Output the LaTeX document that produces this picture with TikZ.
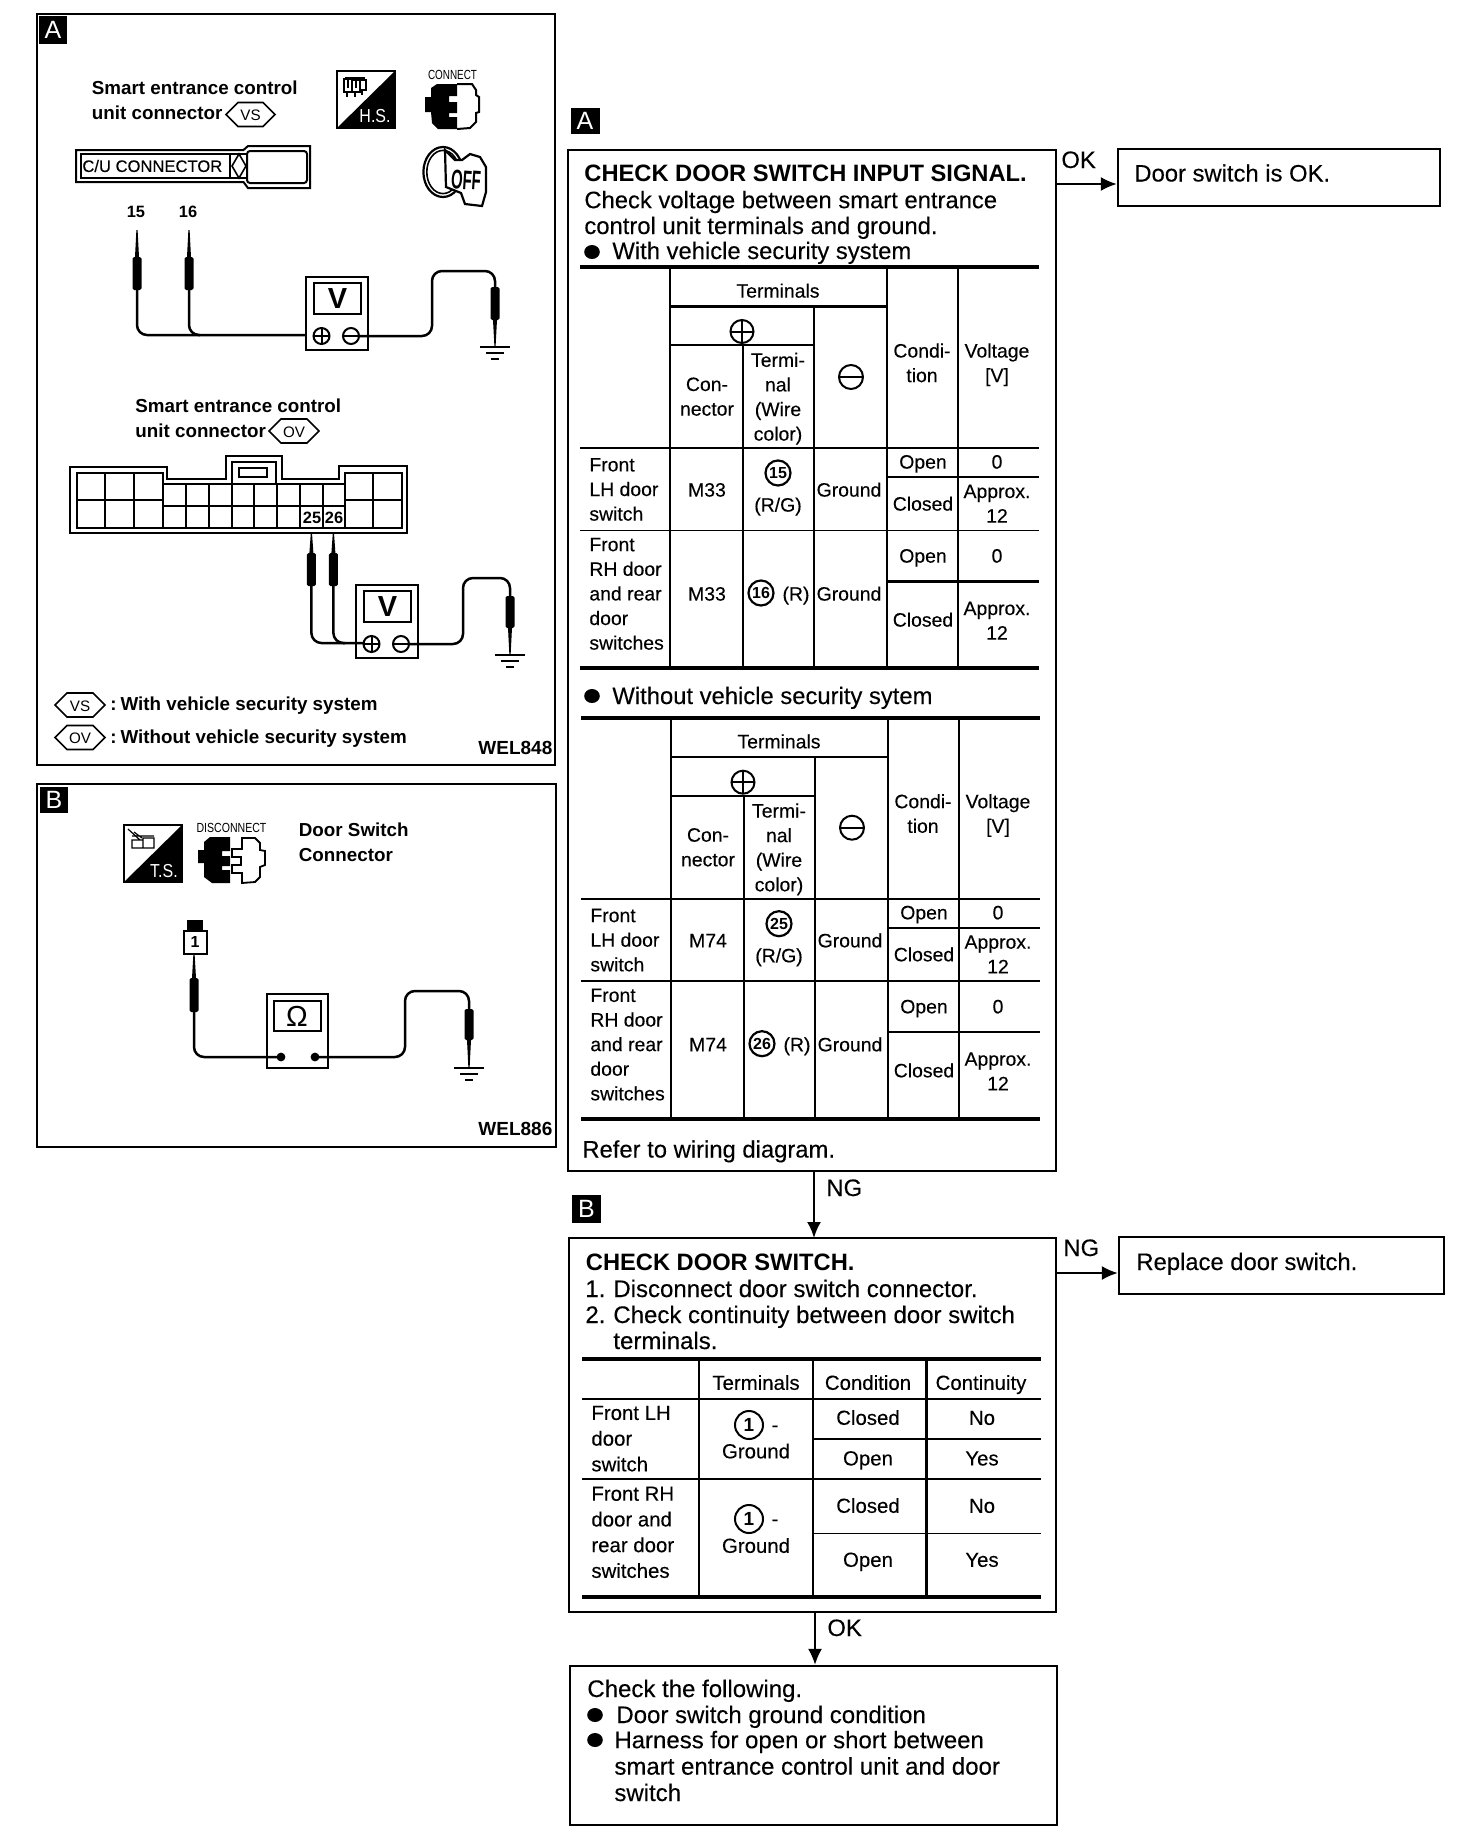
\documentclass[tikz,border=0pt]{standalone}
\usepackage{fontspec}
\usepackage{graphicx}
\setmainfont{Liberation Sans}
\newfontfamily\reg[FakeBold=0.2]{Liberation Sans}
\usetikzlibrary{arrows.meta,fit}
\newcommand{\fsBody}{\reg\fontsize{11.9}{12.9}\selectfont}
\newcommand{\fsTitle}{\bfseries\fontsize{11.85}{12.9}\selectfont}
\newcommand{\fsTab}{\reg\fontsize{9.7}{12.3}\selectfont}
\newcommand{\fsTabB}{\reg\fontsize{10.2}{12.85}\selectfont}
\newcommand{\fsPanel}{\bfseries\fontsize{9.4}{12.5}\selectfont}
\tikzset{
  flowbox/.style={draw=black,line width=1.1pt,inner sep=0pt},
  panelbox/.style={draw=black,line width=1.3pt,inner sep=0pt},
  flow/.style={draw=black,line width=1.1pt,-{Latex[length=8pt,width=7pt]}},
  badge/.style={fill=black,text=white,inner sep=0pt,font=\fontsize{12.5}{13}\selectfont},
  body/.style={font=\fsBody,anchor=base west,align=left,inner sep=0pt},
  titletxt/.style={font=\fsTitle,anchor=base west,align=left,inner sep=0pt},
  flowlabel/.style={font=\fsBody,anchor=base west,inner sep=0pt},
  cellc/.style={font=\fsTab,anchor=base,align=center,inner sep=0pt,yshift=-3.3pt},
  celll/.style={font=\fsTab,anchor=base west,align=left,inner sep=0pt,yshift=-3.3pt},
  cellcb/.style={font=\fsTabB,anchor=base,align=center,inner sep=0pt,yshift=-3.4pt},
  celllb/.style={font=\fsTabB,anchor=base west,align=left,inner sep=0pt,yshift=-3.4pt},
  paneltxt/.style={font=\fsPanel,anchor=base west,align=left,inner sep=0pt},
  pin/.style={font=\bfseries\fontsize{8.2}{9}\selectfont,anchor=center,inner sep=0pt},
  icontxt/.style={font=\fontsize{6.6}{7}\selectfont,inner sep=0pt},
  circnum/.style={circle,draw=black,line width=1.1pt,inner sep=0pt,minimum size=12.5pt,font=\bfseries\fontsize{8}{8}\selectfont},
  circone/.style={circle,draw=black,line width=1pt,inner sep=0pt,minimum size=14pt,font=\bfseries\fontsize{9.5}{10}\selectfont},
  thinrule/.style={line width=0.9pt},
  vrule/.style={line width=1.2pt},
  thickrule/.style={line width=2pt},
  wire/.style={line width=1.25pt,rounded corners=5pt},
  cellline/.style={line width=1pt},
}
\newcommand{\probe}[4]{%
  \fill (#1-0.6,#2)--(#1+0.6,#2)--(#1+2,#3)--(#1-2,#3)--cycle;
  \fill[rounded corners=0.8pt] (#1-4.5,#3) rectangle (#1+4.5,#4);}
\newcommand{\gnd}[2]{%
  \draw[line width=1pt] (#1-15,#2)--(#1+15,#2) (#1-9,#2+6)--(#1+9,#2+6) (#1-4,#2+12)--(#1+4,#2+12);}
\newcommand{\pluscirc}[3]{%
  \draw[line width=1pt] (#1,#2) circle [radius=#3];
  \draw[line width=1pt] (#1-#3,#2)--(#1+#3,#2) (#1,#2-#3)--(#1,#2+#3);}
\newcommand{\minuscirc}[3]{%
  \draw[line width=1pt] (#1,#2) circle [radius=#3];
  \draw[line width=1pt] (#1-#3,#2)--(#1+#3,#2);}
\newcommand{\hexl}[5]{% name, x1, x2, y, text
  \draw[line width=0.8pt] (#2,#4)--(#2+12,#4-12)--(#3-12,#4-12)--(#3,#4)--(#3-12,#4+12)--(#2+12,#4+12)--cycle;
  \node[inner sep=0pt,font=\fontsize{7.6}{8}\selectfont] (#1) at ({(#2+#3)/2},#4+1) {#5};}
\newcommand{\bul}[2]{\fill (#1,#2) ellipse (3.9pt and 3.5pt);}
\newcommand{\vmeter}[3]{% prefix,x,y
  \begin{scope}[shift={(#2,#3)}]
  \draw[line width=1pt] (0,0) rectangle (62,73);
  \draw[line width=1.3pt] (8,6) rectangle (55,37);
  \node[inner sep=0pt,font=\bfseries\fontsize{14.5}{15}\selectfont] (#1) at (31.5,21.5) {V};
  \pluscirc{15.5}{59}{8}
  \minuscirc{45}{59}{8}
  \end{scope}}
\newcommand{\sigtable}[6]{% prefix, dx, dy, connector, n1, n2
  \begin{scope}[shift={(#2,#3)}]
  \draw[thickrule] (580,267)--(1039,267) (580,668)--(1039,668);
  \draw[vrule] (670,267)--(670,668) (743,345)--(743,668) (814,306)--(814,668) (887,267)--(887,668) (958,267)--(958,668);
  \draw[vrule] (670,306.5)--(887,306.5) (670,345)--(814,345);
  \draw[thinrule] (580,448)--(1039,448) (580,530.5)--(1039,530.5);
  \draw[vrule] (887,477)--(1039,477) (887,581.5)--(1039,581.5);
  \node[cellc] (#1term) at (778,291) {Terminals};
  \pluscirc{742}{331.5}{11.5}
  \minuscirc{851}{377}{12}
  \node[cellc] (#1conn) at (707,409) {Con-\\nector};
  \node[cellc] (#1tn) at (778,434) {Termi-\\nal\\(Wire\\color)};
  \node[cellc] (#1cond) at (922,375.5) {Condi-\\tion};
  \node[cellc] (#1volt) at (997,375.5) {Voltage\\{[V]}};
  \node[celll] (#1rowa) at (589,514) {Front\\LH door\\switch};
  \node[cellc] (#1ma) at (707,490) {#4};
  \node[circnum] (#1na) at (778,473) {#5};
  \node[cellc] (#1wa) at (778,505) {(R/G)};
  \node[cellc] (#1ga) at (849,490) {Ground};
  \node[cellc] (#1oa) at (923,462) {Open};
  \node[cellc] (#1va) at (997,462) {0};
  \node[cellc] (#1ca) at (923,504) {Closed};
  \node[cellc] (#1xa) at (997,516) {Approx.\\12};
  \node[celll] (#1rowb) at (589,643) {Front\\RH door\\and rear\\door\\switches};
  \node[cellc] (#1mb) at (707,594) {#4};
  \node[circnum] (#1nb) at (761,593) {#6};
  \node[cellc] (#1wb) at (796,594) {(R)};
  \node[cellc] (#1gb) at (849,594) {Ground};
  \node[cellc] (#1ob) at (923,556) {Open};
  \node[cellc] (#1vb) at (997,556) {0};
  \node[cellc] (#1cb) at (923,620) {Closed};
  \node[cellc] (#1xb) at (997,633) {Approx.\\12};
  \end{scope}}
\begin{document}
\begin{tikzpicture}[x=0.5pt,y=-0.5pt]
\useasboundingbox (0,0) rectangle (1472,1848);
\fill[white] (0,0) rectangle (1472,1848);

% ---------- Panel A (left)
\node[panelbox,fit={(37,14)(555,765)}] (panelA) {};
\node[badge,minimum width=14pt,minimum height=14pt] (badgeA1) at (53,30) {A};
\node[paneltxt] (sm1) at (91.5,119) {Smart entrance control\\unit connector};
\hexl{hexvs}{226}{275}{114.5}{VS}
% H.S.
\fill (337,128)--(395,71)--(395,128)--cycle;
\draw[line width=0.8pt] (337,71) rectangle (395,128);
\node[inner sep=0pt,text=white,font=\fontsize{9.4}{10}\selectfont] (hs) at (375,116.5) {\scalebox{0.85}[1]{H.S.}};
\draw[line width=0.6pt] (344,79) rectangle (352,92) (352,80) rectangle (360,92) (360,80) rectangle (366,90);
\draw[line width=0.6pt] (347,92)--(347,97) (355,92)--(355,97) (362,90)--(362,95) (345,78)--(365,78) (348,79)--(348,88) (356,80)--(356,88);
% CONNECT icon
\node[icontxt] (conn) at (452.5,74.5) {\scalebox{0.75}[1]{CONNECT}};
\fill (437,84)--(457,84)--(457,96)--(449,96)--(449,102)--(457,102)--(457,113)--(449,113)--(449,117)--(457,117)--(457,129)--(438,129)--(432,123)--(431,112)--(425,112)--(425,97)--(431,97)--(431,88)--cycle;
\draw[line width=1pt] (457,84)--(472,84)--(476,90)--(476,95)--(479,97)--(479,112)--(476,113)--(476,122)--(470,128)--(457,129);
% OFF icon
\draw[line width=1.1pt] (443,172) ellipse (9.8pt and 12.5pt);
\draw[line width=0.8pt] (443,172) ellipse (8.1pt and 10.8pt);
\draw[line width=1.1pt,fill=white] (445,150)--(446,187)--(461,193)--(465,204)--(482,206)--(486,192)--(486,167)--(480,157)--(470,154)--(462,160)--(455,160)--cycle;
\node[inner sep=0pt,font=\bfseries\fontsize{13.5}{14}\selectfont,rotate=-4] (off) at (466,180) {\scalebox{0.55}[1]{OFF}};
% C/U connector
\draw[line width=1pt] (76,150)--(243.5,150)--(248,146)--(310,146)--(310,188)--(248,188)--(243.5,182)--(76,182)--cycle;
\draw[line width=1pt] (81,154) rectangle (230,178);
\draw[line width=1pt,rounded corners=1.5pt] (247,151) rectangle (307,183);
\draw[line width=0.8pt] (230,154)--(247,154) (230,178)--(247,178) (239,154)--(246,166)--(239,178)--(232,166)--cycle;
\node[anchor=west,inner sep=0pt,font=\reg\fontsize{8.3}{9}\selectfont] (cu) at (82,166) {C/U CONNECTOR};
\node[pin] (p15) at (136,212) {15};
\node[pin] (p16) at (188,212) {16};
\probe{137}{230}{257}{290}
\probe{189}{230}{257}{290}
\vmeter{vm1}{306}{277}
\draw[wire] (137,290)--(137,335)--(306,335);
\draw[wire] (189,290)--(189,335)--(200,335);
\draw[wire] (359,336)--(432,336)--(432,271)--(495,271)--(495,287);
\probe{495}{346}{320}{287}
\gnd{495}{347}
% Second connector
\node[paneltxt] (sm2) at (135,437) {Smart entrance control\\unit connector};
\hexl{hexov}{269}{319}{431}{OV}
\draw[line width=0.9pt] (70,467)--(167,467)--(167,479)--(226,479)--(226,456)--(282,456)--(282,479)--(339,479)--(339,466)--(407,466)--(407,533)--(70,533)--cycle;
\draw[cellline] (232,484)--(232,462)--(276,462)--(276,484);
\draw[line width=1pt] (238.5,468) rectangle (267,477);
\draw[line width=1.2pt] (77,473) rectangle (163,528) (163,484) rectangle (345,528) (345,473) rectangle (402,528);
\draw[cellline] (77,500)--(163,500) (105,473)--(105,528) (134,473)--(134,528);
\draw[cellline] (163,506)--(345,506) (186,484)--(186,528) (209,484)--(209,528) (232,484)--(232,528) (254,484)--(254,528) (277,484)--(277,528) (300,484)--(300,528) (323,484)--(323,528);
\draw[cellline] (345,500)--(402,500) (373,473)--(373,528);
\node[pin,fill=white,inner xsep=0.5pt] (p25) at (312,518) {25};
\node[pin,fill=white,inner xsep=0.5pt] (p26) at (334,518) {26};
\probe{311.4}{533}{553}{586}
\probe{333.4}{533}{553}{586}
\vmeter{vm2}{356}{585}
\draw[wire] (311.4,586)--(311.4,643)--(364,643);
\draw[wire] (333.4,586)--(333.4,643)--(345,643);
\draw[wire] (409,644)--(463,644)--(463,578)--(510,578)--(510,596);
\probe{510}{655}{628}{596}
\gnd{510}{655}
% Legend
\hexl{lgvs}{55}{105}{705}{VS}
\node[paneltxt] (lg1) at (110,710) {:\hspace{2pt}With vehicle security system};
\hexl{lgov}{55}{105}{737.5}{OV}
\node[paneltxt] (lg2) at (110,743) {:\hspace{2pt}Without vehicle security system};
\node[paneltxt,font=\bfseries\fontsize{9.5}{10}\selectfont] (wel1) at (478,754) {WEL848};

% ---------- Panel B (left)
\node[panelbox,fit={(37,784)(556,1147)}] (panelB) {};
\node[badge,minimum width=14pt,minimum height=13pt] (badgeB1) at (54,800) {B};
\fill (124,882)--(182,825)--(182,882)--cycle;
\draw[line width=0.8pt] (124,825) rectangle (182,882);
\node[inner sep=0pt,text=white,font=\fontsize{9.4}{10}\selectfont] (ts) at (164,871.5) {\scalebox{0.85}[1]{T.S.}};
\draw[line width=0.6pt] (132,840) rectangle (143,848) (143,838) rectangle (154,848) (128,829)--(140,840);
\draw[line width=0.6pt] (132,836)--(154,836) (134,832)--(142,838);
\node[icontxt] (disc) at (231.5,827.5) {\scalebox{0.8}[1]{DISCONNECT}};
\fill (210,837)--(230,837)--(230,851)--(222,851)--(222,856)--(230,856)--(230,866)--(222,866)--(222,870)--(230,870)--(230,883)--(212,883)--(204,877)--(204,863)--(198,863)--(198,850)--(204,850)--(204,842)--cycle;
\draw[line width=0.9pt] (242,838)--(255,838)--(260,843)--(260,850)--(265,851)--(265,865)--(260,867)--(260,877)--(255,882)--(242,883)--(242,873)--(232,873)--(232,865)--(241,865)--(241,857)--(232,857)--(232,849)--(242,849)--cycle;
\node[paneltxt] (dsc) at (298.5,861) {Door Switch\\Connector};
\fill (187,920) rectangle (202.5,931);
\node[draw=black,line width=1pt,minimum width=11.5pt,minimum height=11.5pt,inner sep=0pt,font=\bfseries\fontsize{8}{9}\selectfont] (one) at (195,942) {1};
\probe{194}{954}{978}{1012}
\draw[line width=1pt] (267,994) rectangle (328,1068);
\draw[line width=1.3pt] (274,1001) rectangle (321,1031);
\node[inner sep=0pt,font=\fontsize{14.5}{15}\selectfont] (omega) at (297,1016) {Ω};
\fill (281,1057) circle (2.2pt) (315,1057) circle (2.2pt);
\draw[wire] (194,1012)--(194,1057)--(281,1057);
\draw[wire] (315,1057)--(405,1057)--(405,991)--(469,991)--(469,1009);
\probe{469}{1068}{1040}{1009}
\gnd{469}{1068}
\node[paneltxt,font=\bfseries\fontsize{9.5}{10}\selectfont] (wel2) at (478,1135) {WEL886};

% ---------- Flow box A
\node[badge,minimum width=14.5pt,minimum height=13pt] (badgeA2) at (585,121) {A};
\node[flowbox,fit={(568,150)(1056,1171)}] (boxA) {};
\node[titletxt] (ta) at (584,181) {CHECK DOOR SWITCH INPUT SIGNAL.};
\node[body] (bodya) at (584,234) {Check voltage between smart entrance\\control unit terminals and ground.};
\bul{592}{252}
\node[body] (bulA1) at (612,259) {With vehicle security system};
\sigtable{s}{0}{0}{M33}{15}{16}
\bul{592}{696}
\node[body] (bulA2) at (612,704) {Without vehicle security sytem};
\sigtable{w}{1}{450.7}{M74}{25}{26}
\node[body] (refer) at (582,1157.5) {Refer to wiring diagram.};

\node[flowbox,fit={(1118,149)(1440,206)}] (boxOK) {};
\node[body] (okt) at (1134,181.5) {Door switch is OK.};
\coordinate (aok) at (1060,184);
\draw[flow] (boxA.east |- aok) -- (boxOK.west |- aok);
\node[flowlabel] (lok1) at (1061,168) {OK};

\coordinate (ang) at (814,1200);
\draw[flow] (boxA.south -| ang) -- (ang |- 0,1238);
\node[flowlabel] (lng1) at (826,1196) {NG};
\node[badge,minimum width=14.5pt,minimum height=14pt] (badgeB2) at (586.5,1209) {B};

% ---------- Flow box B
\node[flowbox,fit={(569,1238)(1056,1612)}] (boxB) {};
\node[titletxt] (tb) at (585.5,1270) {CHECK DOOR SWITCH.};
\node[body,font=\reg\fontsize{12}{13}\selectfont] (bodyb) at (585,1349) {\makebox[14pt][l]{1.}Disconnect door switch connector.\\\makebox[14pt][l]{2.}Check continuity between door switch\\\makebox[14pt][l]{}terminals.};
\draw[thickrule] (582,1358.5)--(1041,1358.5) (582,1596.5)--(1041,1596.5);
\draw[vrule] (699,1358.5)--(699,1596.5) (813,1358.5)--(813,1596.5) (926.5,1358.5)--(926.5,1596.5);
\draw[thinrule] (582,1399)--(1041,1399) (813,1439)--(1041,1439) (813,1533.5)--(1041,1533.5);
\draw[vrule] (582,1479)--(1041,1479);
\node[cellcb] (bt) at (756,1383) {Terminals};
\node[cellcb] (bc) at (868,1383) {Condition};
\node[cellcb] (bk) at (981,1383) {Continuity};
\node[celllb] (br1) at (591,1464.5) {Front LH\\door\\switch};
\node[circone] (bc1) at (749,1425) {1};
\node[cellcb] (bd1) at (775,1425) {-};
\node[cellcb] (bg1) at (756,1451.5) {Ground};
\node[cellcb] (bo1) at (868,1418) {Closed};
\node[cellcb] (bn1) at (982,1418) {No};
\node[cellcb] (bo2) at (868,1458.6) {Open};
\node[cellcb] (by1) at (982,1458.6) {Yes};
\node[celllb] (br2) at (591,1571) {Front RH\\door and\\rear door\\switches};
\node[circone] (bc2) at (749,1519) {1};
\node[cellcb] (bd2) at (775,1519) {-};
\node[cellcb] (bg2) at (756,1546) {Ground};
\node[cellcb] (bo3) at (868,1506) {Closed};
\node[cellcb] (bn2) at (982,1506) {No};
\node[cellcb] (bo4) at (868,1560) {Open};
\node[cellcb] (by2) at (982,1560) {Yes};

\node[flowbox,fit={(1119,1237)(1444,1294)}] (boxRep) {};
\node[body] (rept) at (1136,1270) {Replace door switch.};
\coordinate (bng) at (1060,1273);
\draw[flow] (boxB.east |- bng) -- (boxRep.west |- bng);
\node[flowlabel] (lng2) at (1063,1256) {NG};

% ---------- Flow box C
\node[flowbox,fit={(570,1666)(1057,1825)}] (boxC) {};
\coordinate (bok) at (815,1640);
\draw[flow] (boxB.south -| bok) -- (boxC.north -| bok);
\node[flowlabel] (lok2) at (827,1636) {OK};
\node[body,font=\reg\fontsize{12}{13.2}\selectfont] (ct) at (587,1697) {Check the following.};
\bul{595}{1715}
\node[body,font=\reg\fontsize{12}{13.2}\selectfont] (cd) at (616,1723) {Door switch ground condition};
\bul{595}{1740}
\node[body,font=\reg\fontsize{12}{13.2}\selectfont] (ch) at (614,1801) {Harness for open or short between\\smart entrance control unit and door\\switch};
\end{tikzpicture}
\end{document}
